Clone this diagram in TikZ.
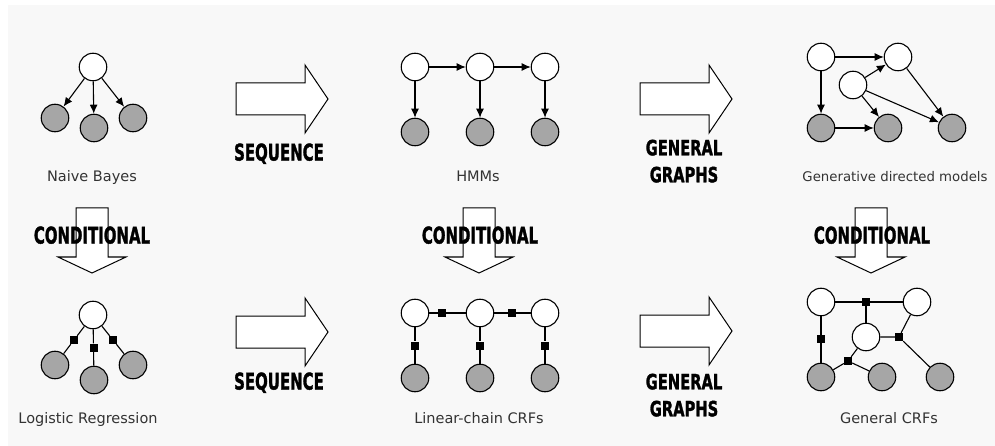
\documentclass[tikz,border=0pt]{standalone}
\usepackage{fontspec}
\usepackage{graphicx}
\setmainfont{DejaVu Sans}
\newfontfamily\bannerfont{DejaVu Sans}[FakeBold=1.8]
\usetikzlibrary{arrows.meta}
\usetikzlibrary{calc}

\definecolor{paper}{HTML}{F8F8F8}
\definecolor{shade}{HTML}{A6A6A6}

\newcommand{\squeeze}[2]{\scalebox{#1}[1]{#2}}

\tikzset{
  hid/.style={circle, draw, fill=white, minimum size=27.5pt, inner sep=0pt, line width=1.1pt},
  obs/.style={hid, fill=shade},
  fac/.style={rectangle, fill=black, minimum size=8pt, inner sep=0pt},
  link/.style={line width=1.1pt},
  arrowlink/.style={link, -{Latex[length=9pt, width=8pt]}},
  caption/.style={font=\fontsize{#1}{17}\selectfont, text=black!80, anchor=base},
  caption/.default=14.5,
  banner/.style={font=\bannerfont\bfseries\fontsize{#1}{27}\selectfont, text depth=0pt, align=center},
  banner/.default=23,
  block/.style={draw, fill=white, line width=1pt},
  rightblock/.pic={\draw[block] (0,-16) -- (69,-16) -- (69,-34) -- (92,0) -- (69,34) -- (69,16) -- (0,16) -- cycle;},
  downblock/.pic={\draw[block] (-16,0) -- (16,0) -- (16,49) -- (34,49) -- (0,65) -- (-34,49) -- (-16,49) -- cycle;}
}

\begin{document}
\begin{tikzpicture}[x=1pt, y=-1pt]

  \fill[white] (0,0) rectangle (995,446);
  \fill[paper] (8,5) rectangle (995,446);
  \useasboundingbox (0,0) rectangle (995,446);

  % big arrows
  \pic at (236,99) {rightblock};
  \pic at (640,99) {rightblock};
  \pic at (236,332) {rightblock};
  \pic at (640,331) {rightblock};
  \foreach \x in {92,479,871}
    \pic at (\x,208) {downblock};

  \node[banner] (seq1) at (279,152) {\squeeze{0.65}{SEQUENCE}};
  \node[banner] (seq2) at (279,381) {\squeeze{0.65}{SEQUENCE}};
  \node[banner=21] (gen1) at (684,161) {\squeeze{0.7}{GENERAL}\\\squeeze{0.7}{GRAPHS}};
  \node[banner=21] (gen2) at (684,395) {\squeeze{0.7}{GENERAL}\\\squeeze{0.7}{GRAPHS}};
  \node[banner] (cond1) at (92,235) {\squeeze{0.65}{CONDITIONAL}};
  \node[banner] (cond2) at (480,235) {\squeeze{0.65}{CONDITIONAL}};
  \node[banner] (cond3) at (872,235) {\squeeze{0.65}{CONDITIONAL}};

  % naive bayes
  \node[hid] (nb) at (93,67) {};
  \node[obs] (nb1) at (55,118) {};
  \node[obs] (nb2) at (94,128) {};
  \node[obs] (nb3) at (133,118) {};
  \foreach \o in {nb1,nb2,nb3}
    \draw[arrowlink] (nb) -- (\o);
  \node[caption] (nblab) at (92,182) {Naive Bayes};

  % hmm
  \foreach \i/\x in {1/415,2/480,3/545} {
    \node[hid] (h\i) at (\x,67) {};
    \node[obs] (hy\i) at (\x,132) {};
    \draw[arrowlink] (h\i) -- (hy\i);
  }
  \draw[arrowlink] (h1) -- (h2);
  \draw[arrowlink] (h2) -- (h3);
  \node[caption] (hmmlab) at (478,182) {HMMs};

  % generative directed
  \node[hid] (ga) at (821,57) {};
  \node[hid] (gb) at (898,57) {};
  \node[hid] (gc) at (853,85) {};
  \node[obs] (gd) at (821,128) {};
  \node[obs] (ge) at (888,128) {};
  \node[obs] (gf) at (952,128) {};
  \foreach \s/\t in {ga/gb,ga/gd,gc/gb,gc/ge,gc/gf,gb/gf,gd/ge}
    \draw[arrowlink] (\s) -- (\t);
  \node[caption=13.3] (gdlab) at (895,182) {Generative directed models};

  % logistic regression
  \node[hid] (lr) at (93,315) {};
  \node[obs] (lr1) at (55,365) {};
  \node[obs] (lr2) at (94,380) {};
  \node[obs] (lr3) at (133,365) {};
  \foreach \o in {lr1,lr2,lr3} {
    \node[fac] (f\o) at ($(lr)!0.5!(\o)$) {};
    \draw[link] (lr) -- (f\o) -- (\o);
  }
  \node[caption] (lrlab) at (88,423) {Logistic Regression};

  % linear chain
  \foreach \i/\x in {1/415,2/480,3/545} {
    \node[hid] (c\i) at (\x,313) {};
    \node[obs] (cy\i) at (\x,378) {};
    \node[fac] (cv\i) at ($(c\i)!0.5!(cy\i)$) {};
    \draw[link] (c\i) -- (cv\i) -- (cy\i);
  }
  \node[fac] (ch1) at (442,313) {};
  \node[fac] (ch2) at (512,313) {};
  \draw[link] (c1) -- (ch1) -- (c2) -- (ch2) -- (c3);
  \node[caption] (lclab) at (479,423) {Linear-chain CRFs};

  % general crf
  \node[hid] (ra) at (821,302) {};
  \node[hid] (rb) at (917,302) {};
  \node[hid] (rc) at (866,337) {};
  \node[obs] (rd) at (821,377) {};
  \node[obs] (re) at (882,377) {};
  \node[obs] (rf) at (940,377) {};
  \node[fac] (rf1) at (866,302) {};
  \node[fac] (rf2) at (821,339) {};
  \node[fac] (rf3) at (848,361) {};
  \node[fac] (rf4) at (899,337) {};
  \draw[link] (ra) -- (rf1) -- (rb);
  \draw[link] (rf1) -- (rc);
  \draw[link] (ra) -- (rf2) -- (rd);
  \draw[link] (rd) -- (rf3) -- (rc);
  \draw[link] (rf3) -- (re);
  \draw[link] (rc) -- (rf4) -- (rb);
  \draw[link] (rf4) -- (rf);
  \node[caption] (gclab) at (889,423) {General CRFs};

\end{tikzpicture}
\end{document}
